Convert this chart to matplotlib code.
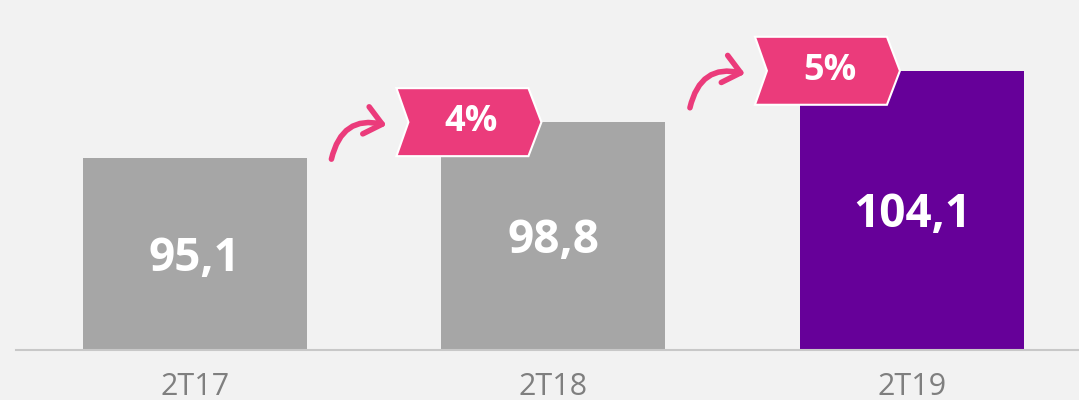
import numpy as np
import matplotlib.pyplot as plt
from matplotlib.patches import Polygon, FancyArrowPatch

plt.rcParams['font.family'] = ['Open Sans', 'DejaVu Sans']

# data
periods = ['2T17', '2T18', '2T19']
values = [95.1, 98.8, 104.1]
value_labels = ['95,1', '98,8', '104,1']
bar_colors = ['#a6a6a6', '#a6a6a6', '#660099']

bg = '#f2f2f2'
pink = '#eb3b7b'

W, H = 1079, 400
fig = plt.figure(figsize=(W/100, H/100), dpi=100, facecolor=bg)
ax_l, ax_b = 16, 50
ax = fig.add_axes([ax_l/W, ax_b/H, (W-ax_l)/W, (H-ax_b)/H])
ax.set_facecolor(bg)

xlim = (-0.499, 2.466)
ylim = (75.3, 111.4)
ax.set_xlim(xlim)
ax.set_ylim(ylim)

# pixel -> data helpers
sx = (xlim[1]-xlim[0])/(W-ax_l)
sy = (ylim[1]-ylim[0])/(H-ax_b)

x = np.arange(len(values))
width = 0.625
ax.bar(x, np.array(values)-ylim[0], bottom=ylim[0], width=width, color=bar_colors, zorder=2)

for xi, v, lab in zip(x, values, value_labels):
    ax.text(xi, (v+ylim[0])/2 - 4*sy, lab, ha='center', va='center', color='white',
            fontsize=33, fontweight='bold', zorder=3)

# growth tags
for i in range(1, len(values)):
    g = round((values[i]/values[i-1]-1)*100)
    c, v = x[i], values[i]
    pts = [(-157, 34), (-25, 34), (-12, 0), (-25, -34), (-157, -34), (-145, 0)]
    poly = Polygon([(c+px*sx, v+py*sy) for px, py in pts], closed=True,
                   facecolor=pink, edgecolor='white', linewidth=1.5, zorder=4)
    ax.add_patch(poly)
    ax.text(c-82*sx, v, f'{g}%', ha='center', va='center', color='white',
            fontsize=26, fontweight='bold', zorder=5)
    arr = FancyArrowPatch((c-222*sx, v-37*sy), (c-167*sx, v-3*sy),
                          connectionstyle='arc3,rad=-0.5',
                          arrowstyle='->,head_length=0.6,head_width=0.5',
                          mutation_scale=20, color=pink, linewidth=4,
                          shrinkA=0, shrinkB=0, capstyle='round', joinstyle='round',
                          zorder=4)
    ax.add_patch(arr)

ax.set_xticks(x)
ax.set_xticklabels(periods, fontsize=22, color='#7f7f7f')
ax.tick_params(axis='x', length=0, pad=16)
ax.set_yticks([])
for s in ['top', 'left', 'right']:
    ax.spines[s].set_visible(False)
ax.spines['bottom'].set_color('#c8c8c8')
ax.spines['bottom'].set_linewidth(1.5)

plt.savefig('out.png', dpi=100, facecolor=bg)
